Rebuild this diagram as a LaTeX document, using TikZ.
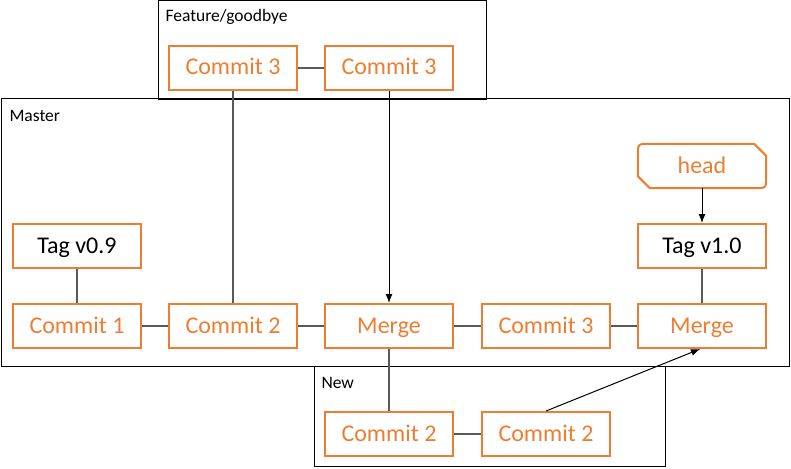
\documentclass[tikz,border=0pt]{standalone}
\usepackage{fontspec}
\setmainfont{Carlito}
\usetikzlibrary{arrows.meta}

\begin{document}
\begin{tikzpicture}[x=1pt,y=-1pt,
    every node/.style={font=\fontsize{24}{28}\selectfont},
    commit/.style={draw=naranja, line width=2pt, minimum width=128pt, minimum height=44pt, inner sep=0pt,
      text height=19pt, text depth=5pt, text=naranja},
    etiqueta/.style={commit, text=black},
    cabeza/.style={minimum width=128pt, minimum height=44pt, inner sep=0pt, text height=19pt, text depth=5pt, text=naranja},
    rama/.style={draw=black, line width=1pt},
    titulo/.style={anchor=west, font=\fontsize{17.5}{20}\selectfont},
    enlace/.style={draw=gris, line width=1.3pt},
    flecha/.style={draw=black, line width=1pt, -{Latex[length=9pt,width=7pt]}}]

    % colores
    \definecolor{naranja}{RGB}{237,125,49}
    \definecolor{gris}{RGB}{89,89,89}

    % parámetros (filas en px)
    \def\yFeat{68}
    \def\yTag{246}
    \def\yMain{326}
    \def\yNew{434}

    \useasboundingbox (0,0) rectangle (791,468);

    % --- Ramas (cajas grandes) ---
    \draw[rama] (158,1) rectangle (486,100);
    \node[titulo] (tFeat) at (162,17) {Feature/goodbye};
    \draw[rama] (1,99) rectangle (789,366);
    \node[titulo] (tMaster) at (6,116) {Master};
    \draw[rama] (314,366) rectangle (665,466);
    \node[titulo] (tNew) at (318,383) {New};

    % --- Feature/goodbye ---
    \node[commit] (fA) at (233,\yFeat) {Commit 3};
    \node[commit] (fB) at (389,\yFeat) {Commit 3};

    % --- Master ---
    \node[etiqueta] (tag09) at (77,\yTag) {Tag v0.9};
    \node[commit] (c1) at (77,\yMain) {Commit 1};
    \node[commit] (c2) at (233,\yMain) {Commit 2};
    \node[commit] (m1) at (389,\yMain) {Merge};
    \node[commit] (c3) at (546,\yMain) {Commit 3};
    \node[commit] (m2) at (702,\yMain) {Merge};
    \node[etiqueta] (tag10) at (702,\yTag) {Tag v1.0};
    \node[cabeza] (head) at (702,166) {head};
    % contorno de head (esquinas redondeadas y cortadas)
    \draw[draw=naranja, line width=2pt]
      ([xshift=12pt]head.north west) -- ([xshift=-12pt]head.north east)
      -- ([yshift=-12pt]head.north east) -- ([yshift=12pt]head.south east)
      .. controls (head.south east) .. ([xshift=-12pt]head.south east)
      -- ([xshift=12pt]head.south west) -- ([yshift=12pt]head.south west)
      -- ([yshift=-12pt]head.north west)
      .. controls (head.north west) .. ([xshift=12pt]head.north west) -- cycle;

    % --- New ---
    \node[commit] (nA) at (389,\yNew) {Commit 2};
    \node[commit] (nB) at (546,\yNew) {Commit 2};

    % --- Enlaces ---
    \draw[enlace] (fA) -- (fB);
    \draw[enlace] (fA.south) -- (c2.north);
    \draw[flecha] (fB.south) -- (m1.north);
    \draw[enlace] (tag09) -- (c1);
    \draw[enlace] (c1) -- (c2);
    \draw[enlace] (c2) -- (m1);
    \draw[enlace] (m1) -- (c3);
    \draw[enlace] (c3) -- (m2);
    \draw[flecha] (head) -- (tag10);
    \draw[enlace] (tag10) -- (m2);
    \draw[enlace] (m1.south) -- (nA.north);
    \draw[enlace] (nA) -- (nB);
    \draw[flecha] (nB.north) -- ([xshift=-2pt]m2.south);
\end{tikzpicture}
\end{document}
